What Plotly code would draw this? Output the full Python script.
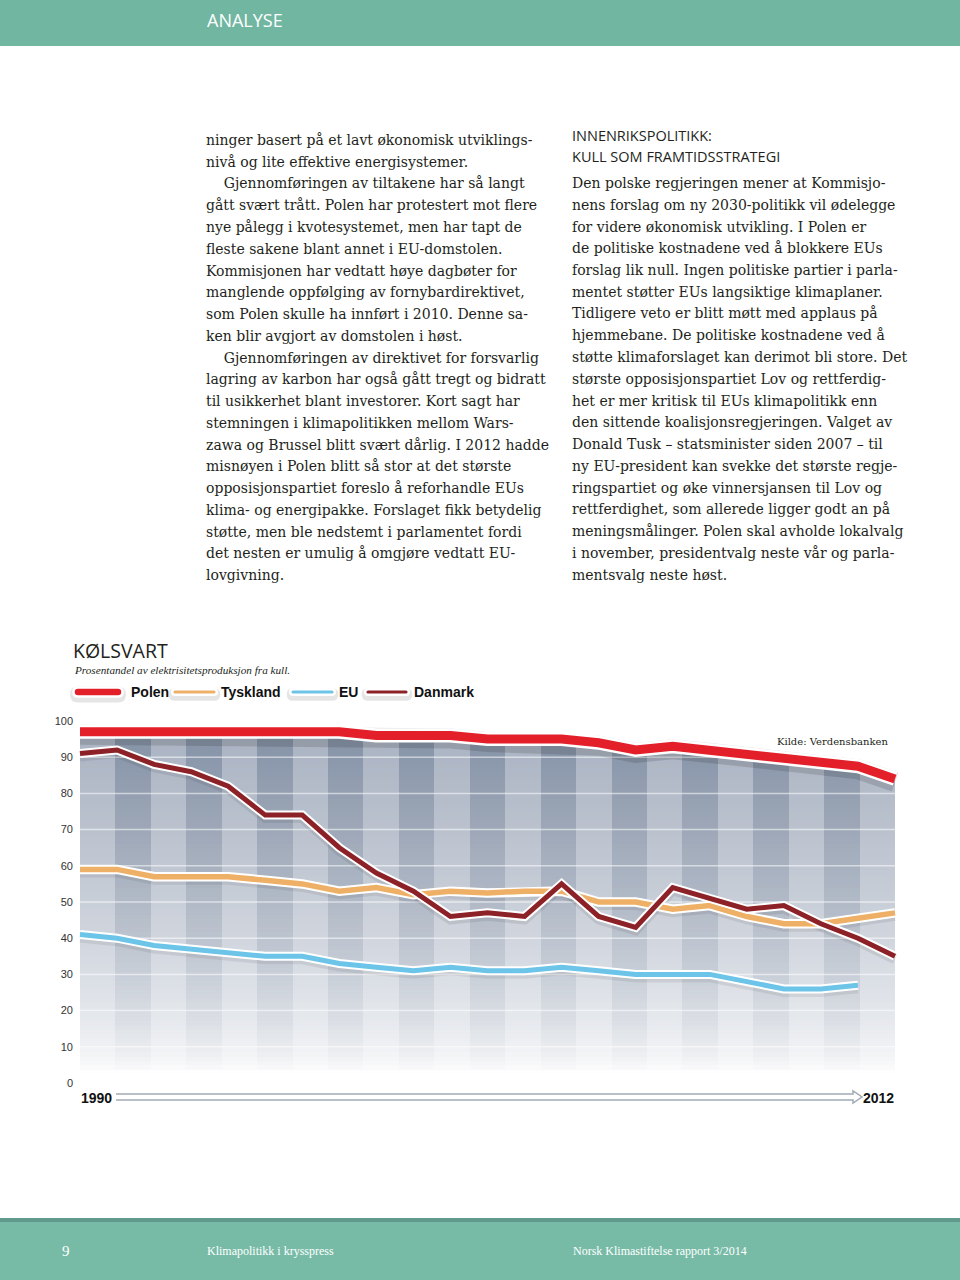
import numpy as np
import plotly.graph_objects as go

# ---------------- data ----------------
years = list(range(1990, 2013))
polen = [97, 97, 97, 97, 97, 97, 97, 97, 96, 96, 96, 95, 95, 95, 94, 92, 93, 92, 91, 89.5, 88.5, 87.5, 84]
tyskland = [59, 59, 57, 57, 57, 56, 55, 53, 54, 52, 53, 52.5, 53, 53, 50, 50, 48, 49, 46, 44, 44, 45.5, 47]
eu = [41, 40, 38, 37, 36, 35, 35, 33, 32, 31, 32, 31, 31, 32, 31, 30, 30, 30, 28, 26, 26, 27, None]
danmark = [91, 92, 88, 86, 82, 74, 74, 65, 58, 53, 46, 47, 46, 55, 46, 43, 54, 51, 48, 49, 44, 40, 35]
y_ticks = [0, 10, 20, 30, 40, 50, 60, 70, 80, 90, 100]

series_names = ["Polen", "Tyskland", "EU", "Danmark"]
series_colors = {"Polen": "#e3202a", "Tyskland": "#edb066", "EU": "#6cc4e8", "Danmark": "#8c2227"}

left_lines = [
    "ninger basert på et lavt økonomisk utviklings-",
    "nivå og lite effektive energisystemer.",
    "    Gjennomføringen av tiltakene har så langt",
    "gått svært trått. Polen har protestert mot flere",
    "nye pålegg i kvotesystemet, men har tapt de",
    "fleste sakene blant annet i EU-domstolen.",
    "Kommisjonen har vedtatt høye dagbøter for",
    "manglende oppfølging av fornybardirektivet,",
    "som Polen skulle ha innført i 2010. Denne sa-",
    "ken blir avgjort av domstolen i høst.",
    "    Gjennomføringen av direktivet for forsvarlig",
    "lagring av karbon har også gått tregt og bidratt",
    "til usikkerhet blant investorer. Kort sagt har",
    "stemningen i klimapolitikken mellom Wars-",
    "zawa og Brussel blitt svært dårlig. I 2012 hadde",
    "misnøyen i Polen blitt så stor at det største",
    "opposisjonspartiet foreslo å reforhandle EUs",
    "klima- og energipakke. Forslaget fikk betydelig",
    "støtte, men ble nedstemt i parlamentet fordi",
    "det nesten er umulig å omgjøre vedtatt EU-",
    "lovgivning.",
]
right_head = ["INNENRIKSPOLITIKK:", "KULL SOM FRAMTIDSSTRATEGI"]
right_lines = [
    "Den polske regjeringen mener at Kommisjo-",
    "nens forslag om ny 2030-politikk vil ødelegge",
    "for videre økonomisk utvikling. I Polen er",
    "de politiske kostnadene ved å blokkere EUs",
    "forslag lik null. Ingen politiske partier i parla-",
    "mentet støtter EUs langsiktige klimaplaner.",
    "Tidligere veto er blitt møtt med applaus på",
    "hjemmebane. De politiske kostnadene ved å",
    "støtte klimaforslaget kan derimot bli store. Det",
    "største opposisjonspartiet Lov og rettferdig-",
    "het er mer kritisk til EUs klimapolitikk enn",
    "den sittende koalisjonsregjeringen. Valget av",
    "Donald Tusk – statsminister siden 2007 – til",
    "ny EU-president kan svekke det største regje-",
    "ringspartiet og øke vinnersjansen til Lov og",
    "rettferdighet, som allerede ligger godt an på",
    "meningsmålinger. Polen skal avholde lokalvalg",
    "i november, presidentvalg neste vår og parla-",
    "mentsvalg neste høst.",
]

# ---------------- geometry helpers ----------------
W, H = 960, 1280


def fx(x):
    return x / W


def fy(y):
    return 1 - y / H


# chart pixel frame
PX_FIRST, PX_LAST = 80, 895      # pixel x of first / last year
PY_ZERO, PY_HUNDRED = 1083, 721  # pixel y of value 0 / 100
DOM_L, DOM_R, DOM_T, DOM_B = 70, 905, 700, 1092
ppx = (PX_LAST - PX_FIRST) / (years[-1] - years[0])
ppv = (PY_ZERO - PY_HUNDRED) / 100.0
x_range = [years[0] - (PX_FIRST - DOM_L) / ppx, years[-1] + (DOM_R - PX_LAST) / ppx]
y_range = [-(DOM_B - PY_ZERO) / ppv, (PY_ZERO - DOM_T) / ppv]
SHADOW_DROP = 3  # px: the shadow axis is shifted so shadows fall slightly below the lines
y_range_shadow = [y_range[0] + SHADOW_DROP / ppv, y_range[1] + SHADOW_DROP / ppv]

fig = go.Figure()

# ---------------- striped gradient background (heatmap) ----------------
n_str = len(years)
x_edges = np.linspace(years[0], years[-1], n_str + 1)
top = max(polen) + 1
y_edges = np.linspace(0, top, 81)
y_cent = (y_edges[:-1] + y_edges[1:]) / 2
t = np.clip((y_cent - 3) / (top - 4), 0, 1) ** 0.65
z = [[(k % 2) * 0.5 + ti * 0.499 for k in range(n_str)] for ti in t]
fig.add_trace(go.Heatmap(
    x=x_edges, y=y_edges, z=z, zmin=0, zmax=1, zsmooth=False,
    colorscale=[[0, "#ffffff"], [0.499, "rgb(170,179,194)"], [0.5, "#ffffff"], [1.0, "rgb(133,146,166)"]],
    showscale=False, hoverinfo="skip"))

# grid lines (white, over stripes)
gx, gy = [], []
for v in y_ticks[1:-1]:
    gx += [years[0], years[-1], None]
    gy += [v, v, None]
fig.add_trace(go.Scatter(x=gx, y=gy, mode="lines", line=dict(color="rgba(255,255,255,0.55)", width=1.5),
                         hoverinfo="skip", showlegend=False))

# white area above Polen
fig.add_trace(go.Scatter(x=years, y=[y_range[1]] * len(years), mode="lines", line=dict(width=0),
                         hoverinfo="skip", showlegend=False))
fig.add_trace(go.Scatter(x=years, y=polen, mode="lines", line=dict(width=0), fill="tonexty",
                         fillcolor="#ffffff", hoverinfo="skip", showlegend=False))

series = [(eu, "EU", 5, 4, ("rgba(0,0,0,0.07)", 10)),
          (tyskland, "Tyskland", 5.5, 4, ("rgba(0,0,0,0.07)", 10)),
          (danmark, "Danmark", 5, 4, ("rgba(0,0,0,0.08)", 10)),
          (polen, "Polen", 9, 5, ("rgba(0,0,0,0.13)", 20))]

# shadows (on shifted overlay axis y2)
for vals, name, w, casing, sh in series:
    fig.add_trace(go.Scatter(x=years, y=vals, mode="lines", line=dict(color=sh[0], width=sh[1]),
                             yaxis="y2", hoverinfo="skip", showlegend=False))
# casings + lines (overlay axis y3, same scale as y)
for vals, name, w, casing, sh in series:
    fig.add_trace(go.Scatter(x=years, y=vals, mode="lines", line=dict(color="#ffffff", width=w + casing),
                             yaxis="y3", hoverinfo="skip", showlegend=False))
    fig.add_trace(go.Scatter(x=years, y=vals, mode="lines", line=dict(color=series_colors[name], width=w),
                             yaxis="y3", name=name, hoverinfo="skip", showlegend=False))

fig.update_layout(
    xaxis=dict(domain=[fx(DOM_L), fx(DOM_R)], range=x_range, showgrid=False, zeroline=False,
               showticklabels=False, showline=False, fixedrange=True),
    yaxis=dict(domain=[fy(DOM_B), fy(DOM_T)], range=y_range, showgrid=False, zeroline=False,
               tickvals=y_ticks, ticktext=[str(v) for v in y_ticks], ticks="",
               anchor="free", position=fx(73),
               tickfont=dict(family="Liberation Sans", size=11, color="#333333"),
               showline=False, fixedrange=True),
    yaxis2=dict(overlaying="y", range=y_range_shadow, visible=False, fixedrange=True),
    yaxis3=dict(overlaying="y", range=y_range, visible=False, fixedrange=True),
)

shapes = []
ann = []

# header / footer bands
shapes.append(dict(type="rect", xref="paper", yref="paper", x0=0, x1=1, y0=fy(46), y1=fy(0),
                   fillcolor="#70b6a1", line=dict(width=0), layer="below"))
shapes.append(dict(type="rect", xref="paper", yref="paper", x0=0, x1=1, y0=fy(1222), y1=fy(1218),
                   fillcolor="#5f9a8c", line=dict(width=0), layer="below"))
shapes.append(dict(type="rect", xref="paper", yref="paper", x0=0, x1=1, y0=0, y1=fy(1222),
                   fillcolor="#77bba7", line=dict(width=0), layer="below"))

ann.append(dict(text="ANALYSE", x=fx(205), y=fy(20), font=dict(family="Open Sans", size=18, color="#ffffff")))
ann.append(dict(text="9", x=fx(60), y=fy(1251), font=dict(family="Liberation Serif", size=15, color="#ffffff")))
ann.append(dict(text="Klimapolitikk i krysspress", x=fx(205), y=fy(1251),
                font=dict(family="Liberation Serif", size=12, color="#ffffff")))
ann.append(dict(text="Norsk Klimastiftelse rapport 3/2014", x=fx(571), y=fy(1251),
                font=dict(family="Liberation Serif", size=12, color="#ffffff")))

# body text
LH = 21.75
for i, line in enumerate(left_lines):
    ann.append(dict(text=line.replace("    ", "&nbsp;&nbsp;&nbsp;&nbsp;"), x=fx(204), y=fy(140 + i * LH),
                    font=dict(family="DejaVu Serif", size=14, color="#231f20")))
for i, line in enumerate(right_head):
    ann.append(dict(text=line, x=fx(570), y=fy(135 + i * 21.5),
                    font=dict(family="Open Sans", size=14.5, color="#231f20")))
for i, line in enumerate(right_lines):
    ann.append(dict(text=line, x=fx(570), y=fy(183 + i * LH),
                    font=dict(family="DejaVu Serif", size=14, color="#231f20")))

# chart title, subtitle, source
ann.append(dict(text="KØLSVART", x=fx(71), y=fy(650), font=dict(family="Open Sans", size=19.5, color="#231f20")))
ann.append(dict(text="<i>Prosentandel av elektrisitetsproduksjon fra kull.</i>", x=fx(72), y=fy(670),
                font=dict(family="Liberation Serif", size=11.2, color="#231f20")))
ann.append(dict(text="Kilde: Verdensbanken", x=fx(890), y=fy(741), xanchor="right",
                font=dict(family="DejaVu Serif", size=10, color="#231f20")))


# legend pills
def pill(x1, x2, yc, h):
    pts = (f"M {fx(x1)},{fy(yc - h)} L {fx(x2)},{fy(yc - h)} "
           f"Q {fx(x2 + h)},{fy(yc - h)} {fx(x2 + h)},{fy(yc)} "
           f"Q {fx(x2 + h)},{fy(yc + h)} {fx(x2)},{fy(yc + h)} "
           f"L {fx(x1)},{fy(yc + h)} "
           f"Q {fx(x1 - h)},{fy(yc + h)} {fx(x1 - h)},{fy(yc)} "
           f"Q {fx(x1 - h)},{fy(yc - h)} {fx(x1)},{fy(yc - h)} Z")
    return pts


legend_items = [("Polen", 78, 118, 4.5, 129), ("Tyskland", 175, 214, 2.8, 219),
                ("EU", 293, 332, 2.8, 337), ("Danmark", 368, 406, 2.8, 412)]
LY = 692
for name, x1, x2, h, tx in legend_items:
    shapes.append(dict(type="path", xref="paper", yref="paper", path=pill(x1, x2, LY + 2.5, h + 3.5),
                       fillcolor="rgba(0,0,0,0.10)", line=dict(width=0)))
    shapes.append(dict(type="path", xref="paper", yref="paper", path=pill(x1, x2, LY, h),
                       fillcolor=series_colors[name], line=dict(color="#ffffff", width=2.5)))
    ann.append(dict(text=f"<b>{name}</b>", x=fx(tx), y=fy(LY),
                    font=dict(family="Liberation Sans", size=14, color="#111111")))

# time arrow under the chart
arrow = (f"M {fx(116)},{fy(1094)} L {fx(853)},{fy(1094)} L {fx(853)},{fy(1091)} "
         f"L {fx(862)},{fy(1097)} L {fx(853)},{fy(1103)} L {fx(853)},{fy(1100)} L {fx(116)},{fy(1100)}")
shapes.append(dict(type="path", xref="paper", yref="paper", path=arrow, fillcolor="#ffffff",
                   line=dict(color="#a3abb4", width=1.5)))
ann.append(dict(text=f"<b>{years[0]}</b>", x=fx(79), y=fy(1098),
                font=dict(family="Liberation Sans", size=14, color="#111111")))
ann.append(dict(text=f"<b>{years[-1]}</b>", x=fx(896), y=fy(1098), xanchor="right",
                font=dict(family="Liberation Sans", size=14, color="#111111")))

for a in ann:
    a.setdefault("xref", "paper")
    a.setdefault("yref", "paper")
    a.setdefault("xanchor", "left")
    a.setdefault("yanchor", "middle")
    a.setdefault("showarrow", False)

fig.update_layout(width=W, height=H, margin=dict(l=0, r=0, t=0, b=0), paper_bgcolor="#ffffff",
                  plot_bgcolor="rgba(0,0,0,0)", shapes=shapes, annotations=ann, showlegend=False)

fig.write_html("out.html", config={"displayModeBar": False},
               post_script="document.body.style.margin='0';document.body.style.overflow='hidden';")
